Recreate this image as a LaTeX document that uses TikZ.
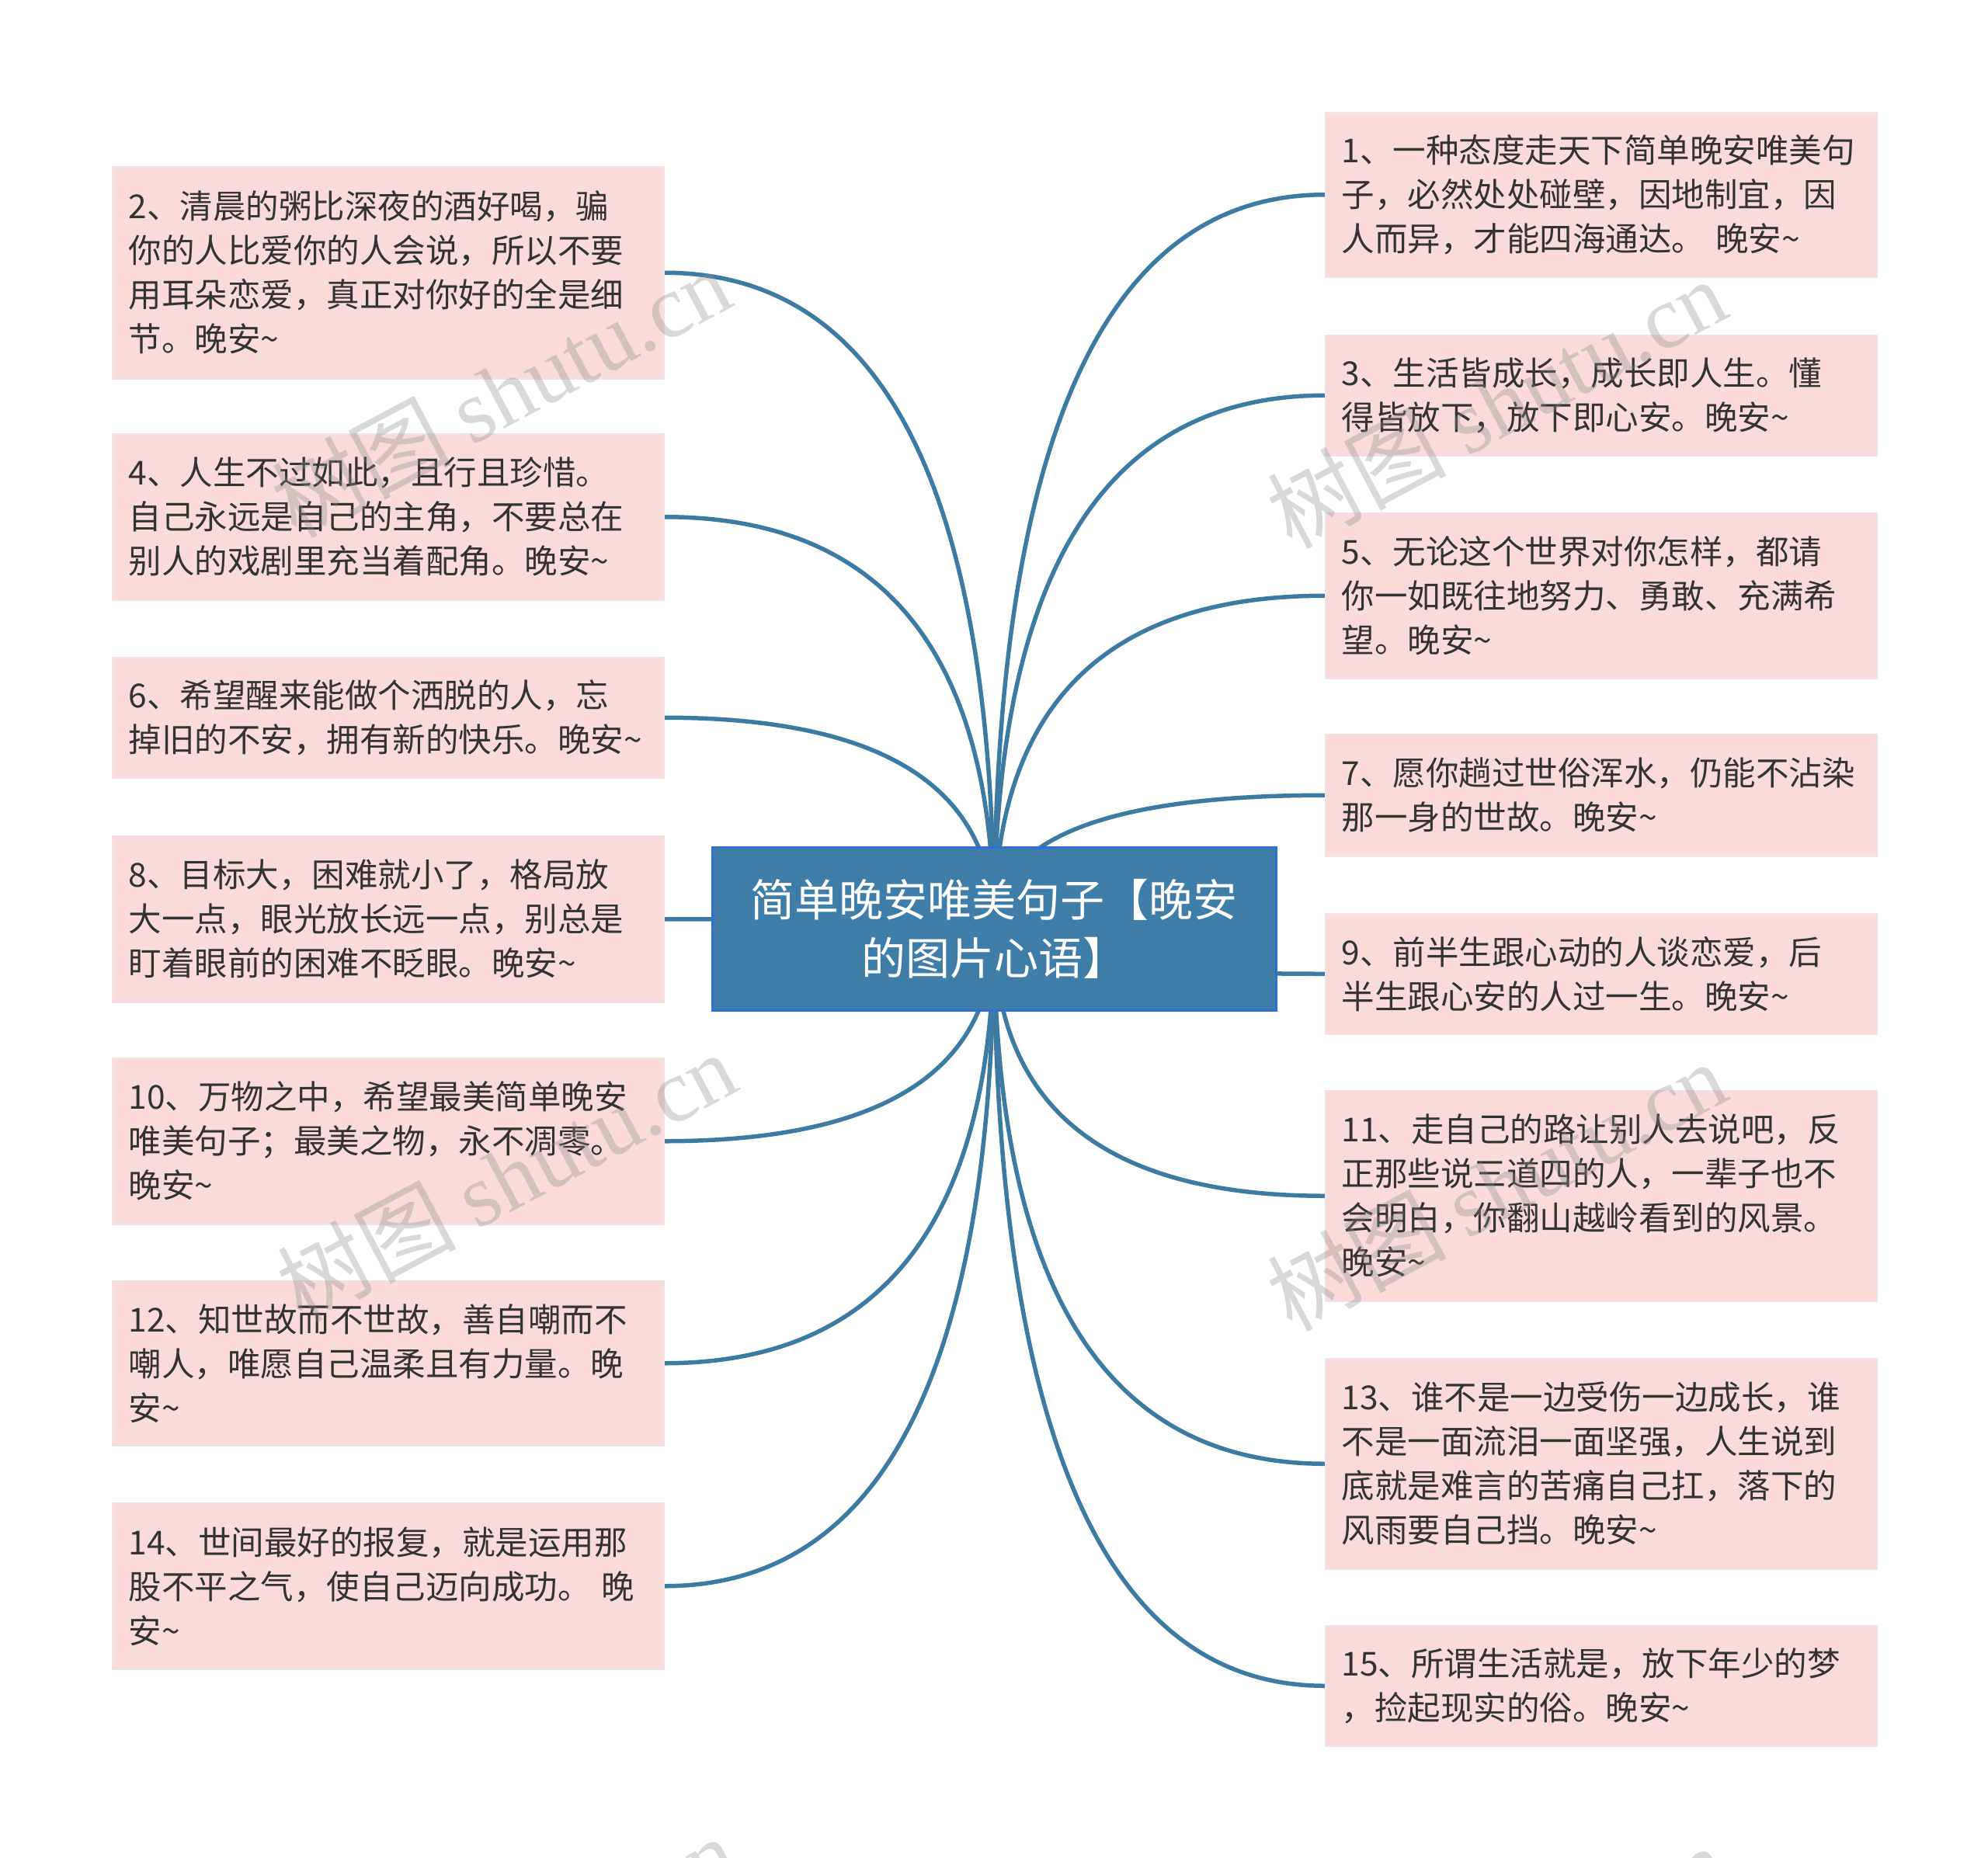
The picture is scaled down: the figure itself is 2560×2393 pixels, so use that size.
\documentclass[tikz,border=0pt]{standalone}
\usepackage{fontspec}
\setmainfont{Noto Sans CJK SC}
\newfontfamily\wmlatin{Liberation Serif}
\usetikzlibrary{calc,backgrounds}
\definecolor{leaffill}{HTML}{FADADB}
\definecolor{leafline}{HTML}{F2E2E2}
\definecolor{textc}{HTML}{333333}
\definecolor{connc}{HTML}{3E7BA3}
\definecolor{ctrfill}{HTML}{3F7EA8}
\definecolor{ctrline}{HTML}{2F6FD2}
\newcommand\mytld{\textasciitilde}
% quadratic curve from the centre of the main node, control point level with the leaf anchor
\newcommand\linkit[1]{%
  \coordinate (kk) at (c.center |- #1);
  \draw[conn] (#1) .. controls ($(#1)!0.667!(kk)$) and ($(c.center)!0.667!(kk)$) .. (c.center);}
\tikzset{
  leaf/.style={draw=leafline, line width=1.5pt, fill=leaffill, text=textc,
    font={\fontsize{42.5pt}{57pt}\selectfont}, align=left, text width=668pt,
    inner xsep=21pt, inner ysep=0pt, anchor=north west},
  ctr/.style={draw=ctrline, line width=3pt, fill=ctrfill, text=white,
    font={\fontsize{57pt}{75pt}\selectfont}, align=center,
    minimum width=726pt, minimum height=210pt, inner sep=0pt},
  conn/.style={draw=connc, line width=5.5pt},
  wm/.style={text=black!45, opacity=0.33, rotate=28,
    font={\fontsize{115pt}{115pt}\selectfont}, inner sep=0pt}
}
\begin{document}
\begin{tikzpicture}[x=1pt,y=-1pt]
\useasboundingbox (0,0) rectangle (2560,2393);
% center
\node[ctr] (c) at (1280,1196) {简单晚安唯美句子【晚安\\的图片心语】};
% left boxes
\node[leaf, minimum height=273pt] (b2) at (144,214) {2、清晨的粥比深夜的酒好喝，骗\\你的人比爱你的人会说，所以不要\\用耳朵恋爱，真正对你好的全是细\\节。晚安\mytld};
\node[leaf, minimum height=214pt] (b4) at (144,558) {4、人生不过如此，且行且珍惜。\\自己永远是自己的主角，不要总在\\别人的戏剧里充当着配角。晚安\mytld};
\node[leaf, minimum height=155pt] (b6) at (144,846) {6、希望醒来能做个洒脱的人，忘\\掉旧的不安，拥有新的快乐。晚安\mytld};
\node[leaf, minimum height=214pt] (b8) at (144,1076) {8、目标大，困难就小了，格局放\\大一点，眼光放长远一点，别总是\\盯着眼前的困难不眨眼。晚安\mytld};
\node[leaf, minimum height=214pt] (b10) at (144,1362) {10、万物之中，希望最美简单晚安\\唯美句子；最美之物，永不凋零。\\晚安\mytld};
\node[leaf, minimum height=212pt] (b12) at (144,1649) {12、知世故而不世故，善自嘲而不\\嘲人，唯愿自己温柔且有力量。晚\\安\mytld};
\node[leaf, minimum height=214pt] (b14) at (144,1935) {14、世间最好的报复，就是运用那\\股不平之气，使自己迈向成功。 晚\\安\mytld};
% right boxes
\node[leaf, minimum height=212pt] (b1) at (1706,144) {1、一种态度走天下简单晚安唯美句\\子，必然处处碰壁，因地制宜，因\\人而异，才能四海通达。 晚安\mytld};
\node[leaf, minimum height=155pt] (b3) at (1706,431) {3、生活皆成长，成长即人生。懂\\得皆放下，放下即心安。晚安\mytld};
\node[leaf, minimum height=213pt] (b5) at (1706,660) {5、无论这个世界对你怎样，都请\\你一如既往地努力、勇敢、充满希\\望。晚安\mytld};
\node[leaf, minimum height=157pt] (b7) at (1706,945) {7、愿你趟过世俗浑水，仍能不沾染\\那一身的世故。晚安\mytld};
\node[leaf, minimum height=155pt] (b9) at (1706,1176) {9、前半生跟心动的人谈恋爱，后\\半生跟心安的人过一生。晚安\mytld};
\node[leaf, minimum height=271pt] (b11) at (1706,1404) {11、走自己的路让别人去说吧，反\\正那些说三道四的人，一辈子也不\\会明白，你翻山越岭看到的风景。\\晚安\mytld};
\node[leaf, minimum height=271pt] (b13) at (1706,1749) {13、谁不是一边受伤一边成长，谁\\不是一面流泪一面坚强，人生说到\\底就是难言的苦痛自己扛，落下的\\风雨要自己挡。晚安\mytld};
\node[leaf, minimum height=155pt] (b15) at (1706,2093) {15、所谓生活就是，放下年少的梦\\，捡起现实的俗。晚安\mytld};
% connectors, behind the nodes
\begin{scope}[on background layer]
\linkit{b2.east}
\linkit{b4.east}
\linkit{b6.east}
\linkit{b8.east}
\linkit{b10.east}
\linkit{b12.east}
\linkit{b14.east}
\linkit{b1.west}
\linkit{b3.west}
\linkit{b5.west}
\linkit{b7.west}
\linkit{b9.west}
\linkit{b11.west}
\linkit{b13.west}
\linkit{b15.west}
\end{scope}
% watermarks
\begin{scope}
\clip (0,0) rectangle (2560,2393);
\node[wm] (w1) at (645,505) {树图 {\wmlatin shutu.cn}};
\node[wm] (w2) at (652,1515) {树图 {\wmlatin shutu.cn}};
\node[wm] (w3) at (1927,519) {树图 {\wmlatin shutu.cn}};
\node[wm] (w4) at (1927,1527) {树图 {\wmlatin shutu.cn}};
\node[wm] (w5) at (652,2525) {树图 {\wmlatin shutu.cn}};
\node[wm] (w6) at (1927,2537) {树图 {\wmlatin shutu.cn}};
\end{scope}
\end{tikzpicture}
\end{document}
